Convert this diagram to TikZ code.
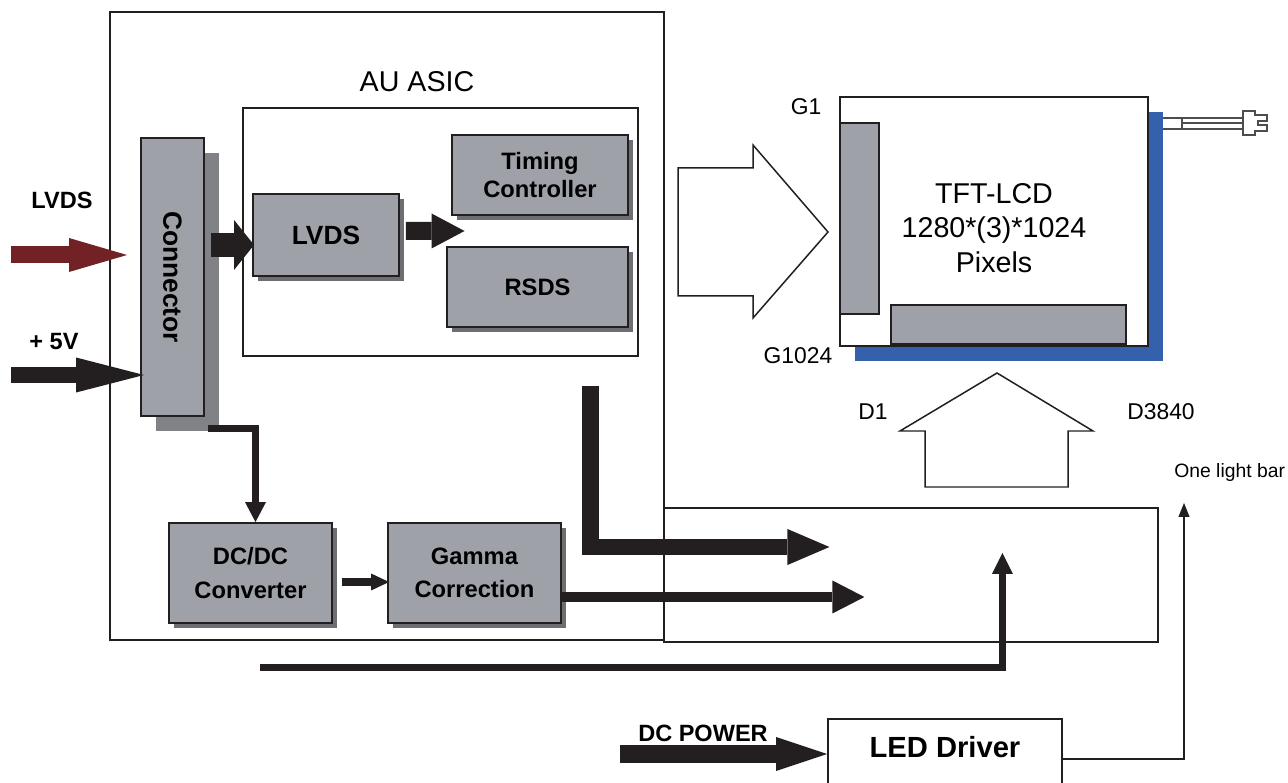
\documentclass[tikz,border=0pt]{standalone}
\usepackage{fontspec}
\setmainfont{Liberation Sans}
\definecolor{blockgray}{RGB}{159, 161, 168}
\definecolor{shadegray}{RGB}{108, 110, 114}
\definecolor{conngray}{RGB}{128, 130, 133}
\definecolor{lvdsred}{RGB}{114, 34, 36}
\definecolor{panelblue}{RGB}{53, 96, 171}
\definecolor{ink}{RGB}{35, 31, 32}
\usepackage{tikz}
\usetikzlibrary{arrows.meta, positioning, calc, shadows}
\newcommand{\blockfont}{\fontsize{13.5}{16}\selectfont\bfseries}
\newcommand{\lblfont}{\fontsize{13}{15}\selectfont}
\newcommand{\lblboldfont}{\fontsize{13.4}{15}\selectfont\bfseries}

\begin{document}
\begin{tikzpicture}[x=0.02cm, y=-0.02cm,
  block/.style={draw=ink, line width=1.1pt, fill=blockgray, align=center, font=\blockfont, inner sep=0pt},
  shade/.style={drop shadow={shadow xshift=0.1cm, shadow yshift=-0.1cm, fill=shadegray, opacity=1}},
  frame/.style={draw=ink, line width=0.7pt, inner sep=0pt},
  hollow/.style={draw=ink, line width=0.85pt, fill=white},
  fatarrow/.style n args={3}{line width=#1, color=ink, -{Triangle[length=#2, width=#3, line width=0pt 0 0]}}]

  \useasboundingbox (0,0) rectangle (1288,783);

  % ASIC and outer frames
  \node[frame, minimum width=11.08cm, minimum height=12.56cm] (asic) at (387,326) {};
  \node[frame, line width=0.9pt, minimum width=7.9cm, minimum height=4.96cm] (core) at (440.5,232) {};
  \node[frame, minimum width=9.88cm, minimum height=2.68cm] (outbox) at (911,575) {};
  \node[font=\fontsize{16.3}{19}\selectfont] (asiclabel) at (417,82) {AU ASIC};

  % Connector
  \node[block, minimum width=1.26cm, minimum height=5.56cm, font=\fontsize{15}{18}\selectfont\bfseries,
    drop shadow={shadow xshift=0.3cm, shadow yshift=-0.3cm, fill=conngray, opacity=1}] (conn) at (172.5,277) {\rotatebox{-90}{Connector}};

  % Blocks inside the ASIC
  \node[block, shade, minimum width=2.92cm, minimum height=1.64cm, font=\fontsize{15}{18}\selectfont\bfseries] (lvds) at (326,235) {LVDS};
  \node[block, shade, minimum width=3.52cm, minimum height=1.6cm] (timing) at (540,175) {Timing\\Controller};
  \node[block, shade, minimum width=3.62cm, minimum height=1.6cm] (rsds) at (537.5,287) {RSDS};
  \node[block, shade, minimum width=3.26cm, minimum height=2cm] (dcdc) at (250.5,573) {DC/DC\\[3pt]Converter};
  \node[block, shade, minimum width=3.46cm, minimum height=2cm] (gamma) at (474.5,573) {Gamma\\[3pt]Correction};

  % Panel
  \node[draw=ink, line width=1.3pt, fill=white, inner sep=0pt, minimum width=6.16cm, minimum height=4.98cm,
    drop shadow={shadow xshift=0.3cm, shadow yshift=-0.3cm, fill=panelblue, opacity=1}] (panel) at (994,221.5) {};
  \node[block, minimum width=0.78cm, minimum height=3.82cm] (gatebar) at (859.5,218.5) {};
  \node[block, minimum width=4.7cm, minimum height=0.78cm] (sourcebar) at (1008.5,324.5) {};
  \node[font=\fontsize{16.3}{19.8}\selectfont, align=center] (paneltext) at (994,228) {TFT-LCD\\1280*(3)*1024\\Pixels};

  % Lamp cable and plug
  \draw[draw=ink!80, line width=0.6pt] (1163,118) -- (1243,118) (1163,129) -- (1243,129)
    (1182,123) -- (1243,123) (1182,118) -- (1182,129);
  \draw[draw=ink!80, line width=0.6pt, fill=white] (1243,111) -- (1255,111) -- (1255,115) -- (1267,115) -- (1267,121)
    -- (1258,121) -- (1258,125) -- (1267,125) -- (1267,131) -- (1255,131) -- (1255,135) -- (1243,135) -- cycle;

  % LED driver
  \node[draw=ink, line width=1.1pt, fill=white, minimum width=4.68cm, minimum height=1.6cm,
    text height=12pt, text depth=13.6pt, font=\fontsize{16.6}{20}\selectfont\bfseries] (led) at (945,759) {LED Driver};

  % Hollow data arrows
  \draw[hollow] (678,168) -- (753,168) -- (753,145) -- (828,232) -- (753,318) -- (753,296) -- (678,296) -- cycle;
  \draw[hollow] (925,487) -- (925,431) -- (900,431) -- (997,373) -- (1093,431) -- (1068,431) -- (1068,487) -- cycle;

  % Labels
  \node[font=\lblboldfont] (lvdslbl) at (62,200) {LVDS};
  \node[font=\lblboldfont] (vlbl) at (54,342) {+ 5V};
  \node[font=\lblboldfont] (dclbl) at (703,733) {DC POWER};
  \node[font=\lblfont] (g1) at (806,107) {G1};
  \node[font=\lblfont] (g1024) at (798,356) {G1024};
  \node[font=\lblfont] (d1) at (873,412) {D1};
  \node[font=\lblfont] (d3840) at (1161,412) {D3840};
  \node[font=\fontsize{11}{13}\selectfont, anchor=west, inner sep=0pt] (lightbar) at (1174,473) {One light bar};

  % Free ends
  \coordinate (lvdsin) at (11,255);
  \coordinate (vin) at (11,375);
  \coordinate (pwr) at (260,667);
  \coordinate (dcin) at (620,754);
  \coordinate (barin) at (1184,503);

  % Connectors
  \draw[fatarrow={0.34cm}{1.16cm}{0.68cm}, color=lvdsred, shorten >=0.26cm] (lvdsin) -- (lvdsin -| conn.west);
  \draw[fatarrow={0.32cm}{1.36cm}{0.7cm}] (vin) -- ($(vin -| conn.west)+(4,0)$);
  \draw[fatarrow={0.48cm}{0.4cm}{1.0cm}] ($(conn.east |- lvds.west)+(6,10)$) -- ($(lvds.west)+(2,10)$);
  \draw[fatarrow={0.36cm}{0.66cm}{0.7cm}] ($(lvds.east)+(6,-4)$) -- ($(timing.south west)!0.5!(rsds.north west)+(16,0)$);
  \draw[fatarrow={0.14cm}{0.4cm}{0.42cm}] ($(conn.south east)+(3,12)$) -| ($(dcdc.north)+(5,0)$);
  \draw[fatarrow={0.16cm}{0.36cm}{0.34cm}] ($(dcdc.east)+(9,9)$) -- ($(gamma.west)+(2,9)$);
  \draw[fatarrow={0.34cm}{0.84cm}{0.72cm}] ($(core.south east)+(-48,29)$) |- ($(outbox.west)+(166,-28)$);
  \draw[fatarrow={0.22cm}{0.64cm}{0.66cm}] ($(gamma.east)+(0,24)$) -- ($(outbox.west)+(201,22)$);
  \draw[fatarrow={0.14cm}{0.42cm}{0.42cm}] (pwr) -| ($(outbox.west)+(339,-22)$);
  \draw[fatarrow={0.36cm}{1.02cm}{0.68cm}] (dcin) -- (dcin -| led.west);
  \draw[line width=0.6pt, color=ink, -{Triangle[length=0.28cm, width=0.22cm]}] (led.east) -| (barin);
\end{tikzpicture}
\end{document}
